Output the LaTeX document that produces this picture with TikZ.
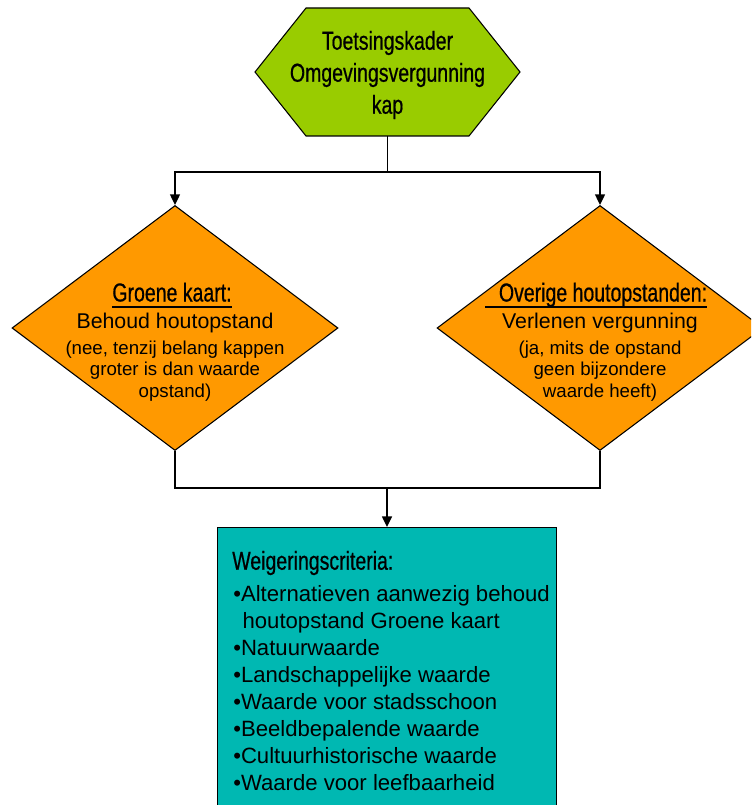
\documentclass[tikz,border=0pt]{standalone}
\usepackage{fontspec}
\setmainfont{Liberation Sans}
\newfontfamily\smalfont{Liberation Sans}[FakeStretch=0.75, FakeBold=0.6]
\usetikzlibrary{shapes.geometric, arrows.meta}
\definecolor{hexgroen}{RGB}{153,204,0}
\definecolor{ruitoranje}{RGB}{255,153,0}
\definecolor{blokteal}{RGB}{0,184,178}

\begin{document}
\begin{tikzpicture}[x=0.75pt, y=-0.75pt,
	vorm/.style={draw=black, line width=0.8pt},
	keuze/.style={vorm, diamond, fill=ruitoranje, inner sep=0pt, minimum width=244.5pt, minimum height=183.75pt},
	kop/.style={font=\smalfont\fontsize{19.5}{24}\selectfont, inner sep=0pt, text depth=0pt, anchor=base},
	romp/.style={font=\fontsize{16}{20}\selectfont, inner sep=0pt},
	klein/.style={font=\fontsize{14}{16.3}\selectfont, inner sep=0pt, align=center},
	lijn/.style={line width=1.1pt},
	pijl/.style={lijn, -{Triangle[length=8pt, width=7.5pt]}},
	onderstreep/.style={line width=1.4pt}]
	\useasboundingbox (0,0) rectangle (751,805);
	\clip (0,0) rectangle (751,805);
	
	% toetsingskader
	\draw[vorm, fill=hexgroen] (306,8) -- (469,8) -- (520,72) -- (469,136) -- (306,136) -- (255,72) -- cycle;
	\node[font=\smalfont\fontsize{19.5}{24}\selectfont, align=center, inner sep=0pt] (kader) at (387.5,75) {Toetsingskader\\Omgevingsvergunning\\kap};
	\coordinate (kader-s) at (387.5,136);
	
	% keuzes
	\node[keuze] (groen) at (175,328) {};
	\node[keuze] (overig) at (600,328) {};
	
	\node[kop] (kop-groen) at (172,301.5) {Groene kaart:};
	\draw[onderstreep] ([yshift=-4pt]kop-groen.south west) -- ([yshift=-4pt]kop-groen.south east);
	\node[romp] (romp-groen) at (175,323) {Behoud houtopstand};
	\node[klein] (klein-groen) at (175,371) {(nee, tenzij belang kappen\\groter is dan waarde\\opstand)};
	
	\node[kop] (kop-overig) at (603,301.5) {Overige houtopstanden:};
	\draw[onderstreep] ([yshift=-4pt, xshift=-10pt]kop-overig.south west) -- ([yshift=-4pt]kop-overig.south east);
	\node[romp] (romp-overig) at (600,323) {Verlenen vergunning};
	\node[klein] (klein-overig) at (600,371) {(ja, mits de opstand\\geen bijzondere\\waarde heeft)};
	
	% weigeringscriteria
	\node[vorm, fill=blokteal, anchor=north, minimum width=254.25pt, minimum height=225pt] (criteria) at (387,527) {};
	\node[font=\smalfont\fontsize{19.5}{24}\selectfont, anchor=west, inner sep=0pt] (kop-criteria) at (232,563) {Weigeringscriteria:};
	\node[font=\fontsize{16.6}{20.25}\selectfont, align=left, anchor=north west, inner sep=0pt] (lijst) at (233,585)
	{•Alternatieven aanwezig behoud\\
		\hspace*{7pt}houtopstand Groene kaart\\
		•Natuurwaarde\\
		•Landschappelijke waarde\\
		•Waarde voor stadsschoon\\
		•Beeldbepalende waarde\\
		•Cultuurhistorische waarde\\
		•Waarde voor leefbaarheid};
	
	% verbindingen
	\coordinate (splits) at (387.5,172);
	\coordinate (samen) at (387,488);
	\draw[lijn] (kader-s) -- (splits);
	\draw[pijl] (splits) -| (groen.north);
	\draw[pijl] (splits) -| (overig.north);
	\draw[lijn] (groen.south) |- (samen) -| (overig.south);
	\draw[pijl] (samen) -- (criteria.north);
\end{tikzpicture}
\end{document}
